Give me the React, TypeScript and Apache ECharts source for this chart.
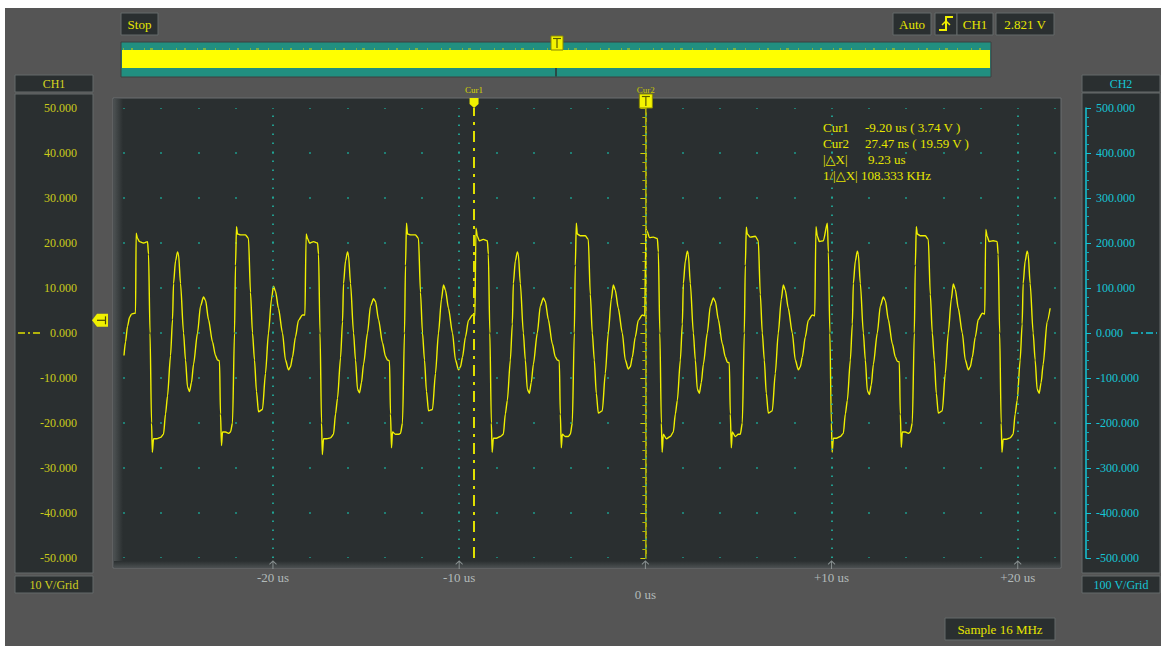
import { useEffect, useRef } from 'react';
import * as echarts from 'echarts';

// ---- data ----
const xTickLabels: Record<string, string> = { '-20': '-20 us', '-10': '-10 us', '0': '\n0 us', '10': '+10 us', '20': '+20 us' };
const majorTimes = [-20, -10, 0, 10, 20];

// lead-in before the first trigger edge (us, V)
const leadTimes = [-28.0, -27.92, -27.81, -27.7, -27.6, -27.43];
const leadVolts = [-5.0, -2.0, 1.5, 3.5, 4.2, 4.4];

// trigger-edge times of each period (us)
const edgeTimes = [-27.38, -18.25, -9.13, 0, 9.13, 18.25];

// sample offsets inside a period, relative to its edge (us)
const periodOffsets = [0.0, 0.032, 0.107, 0.215, 0.429, 0.644, 0.698, 0.778, 0.859, 0.902, 0.966, 1.127, 1.342, 1.503, 1.61, 1.718, 1.879, 1.986, 2.04, 2.147, 2.255, 2.308, 2.416, 2.577, 2.684, 2.791, 2.899, 3.006, 3.113, 3.328, 3.489, 3.65, 3.758, 3.919, 4.133, 4.294, 4.402, 4.509, 4.563, 4.616, 4.67, 4.831, 4.992, 5.1, 5.207, 5.314, 5.368, 5.422, 5.475, 5.636, 5.905, 6.066, 6.173, 6.281, 6.388, 6.495, 6.603, 6.817, 6.978, 7.139, 7.3, 7.408, 7.515, 7.676, 7.891, 8.052, 8.213, 8.321, 8.428, 8.589, 8.75, 8.965, 9.099];

const period1 = [4.4, 22.2, 21.0, 20.3, 20.0, 20.3, 17.5, 0, -20, -26.5, -23.5, -23.5, -23.2, -22.5, -18, -14, -5, 3, 11, 16, 18.0, 17.5, 11, 0, -6, -12, -13.0, -11, -7, 0, 6, 8.0, 7.3, 3, -2, -5, -6, -6.2, -18, -25, -22, -22, -22.3, -22, -20, 0, 15, 23.6, 22, 21.8, 21.8, 21.0, 9, 0, -6, -13, -17.5, -17, -9, 0, 7.5, 10.4, 9.3, 5.5, 0, -6, -8.2, -7.5, -5.4, -0.9, 2.8, 4.0, 4.0];
const period2 = [4.0, 22.0, 21.0, 20.0, 20.3, 20.0, 17.5, 0, -20, -27.0, -23.5, -23.5, -23.3, -22.5, -18, -14.5, -5.5, 2.5, 11, 16, 18.0, 17.3, 11, 0, -6, -12.5, -13.3, -11, -7, 0, 6, 7.6, 7, 3, -2.2, -5.2, -6, -6.2, -18, -25.5, -22, -22.5, -22.5, -22.3, -20, 0, 15, 24.4, 22, 21.8, 21.8, 21.0, 9, 0, -6, -13, -17.3, -17, -9, 0, 7.5, 10.7, 9.5, 5.5, 0, -6, -8.2, -7.5, -5.4, -0.9, 2.8, 4.0, 3.8];
const period3 = [3.7, 23.3, 21.5, 20.5, 20.8, 20.5, 17.5, 0, -20, -26.5, -23.4, -23.4, -23, -22.5, -18, -15, -6, 2, 11, 16, 18.0, 17.5, 11, 0, -6, -12.5, -13.4, -11, -7, 0, 6, 7.8, 7, 3, -2.4, -5.3, -6, -6.2, -18, -25.5, -22.5, -23, -23, -22.5, -20, 0, 15, 24.4, 22, 21.6, 21.6, 20.8, 8.6, 0, -6, -13.4, -17.8, -17.3, -9, 0, 7.5, 10.7, 9.5, 5.5, 0, -6, -8.0, -7.5, -5.4, -0.9, 2.8, 4.0, 3.8];
const period4 = [3.8, 23.0, 22.5, 21.2, 21.3, 21.0, 18.0, 0, -20, -26.5, -22.5, -23.5, -23, -22, -18, -15, -6, 2, 11, 16, 18.2, 17.5, 11, 0, -6, -12.5, -13.4, -11, -7, 0, 6, 7.8, 7, 3, -2.4, -5.3, -6.5, -6.6, -18, -25.5, -22, -23, -22.5, -22.5, -20, 0, 15, 23.5, 22, 21.3, 21.5, 20.5, 8.6, 0, -6, -13.4, -17.8, -17.3, -9, 0, 7.5, 10.7, 9.5, 5.5, 0, -6, -8.2, -7.5, -5.4, -0.9, 2.8, 4.0, 3.8];
const period5 = [3.8, 23.6, 21.5, 20.3, 20.5, 24.4, 18.0, 0, -20, -26.5, -23.4, -23.4, -23, -22.3, -18, -15, -6, 2, 11, 16, 18.2, 17.5, 11, 0, -6, -12.8, -13.7, -11.5, -7, 0, 6, 8.0, 7.2, 3, -2.4, -5.3, -6.3, -6.4, -18, -25.4, -22, -22, -22.3, -22, -20, 0, 15, 23.6, 22, 21.6, 21.6, 20.8, 8.6, 0, -6, -13.4, -17.8, -17.3, -9, 0, 7.5, 10.9, 9.7, 5.5, 0, -6, -8.2, -7.5, -5.4, -0.9, 3.0, 4.4, 4.2];
const period6 = [4.3, 23.0, 21.5, 20.3, 20.5, 20.3, 17.5, 0, -20, -26.5, -23.6, -23.6, -23.3, -22.5, -18, -15, -6, 2, 11, 16, 18.2, 17.5, 11, 0, -6, -12.5, -13.4, -11, -7, 2.5, 5.5];
const periods = [period1, period2, period3, period4, period5, period6];

// cursors
const cursor1Time = -9.2;
const cursor2Time = 0.02747;
const triggerLevel = 2.821;

const FONT = 'Liberation Serif, DejaVu Serif, serif';
const YEL = '#e6e600';
const CYAN = '#16c6d6';
const TEAL = '#1c9a8a';

export default function App() {
  const ref = useRef<HTMLDivElement>(null);

  useEffect(() => {
    document.body.style.margin = '0';
    const el = ref.current!;
    const chart = echarts.init(el, null, { renderer: 'svg' });

    const trace: number[][] = [];
    leadTimes.forEach((t, i) => trace.push([t, leadVolts[i]]));
    periods.forEach((vals, p) => {
      vals.forEach((v, i) => trace.push([+(edgeTimes[p] + periodOffsets[i]).toFixed(3), v]));
    });

    const cursorSeries = (t: number, color: string, width: number, dash: number[], z: number) => ({
      type: 'line', data: [[-28, 0]], symbol: 'none', silent: true, z,
      lineStyle: { opacity: 0 },
      markLine: {
        silent: true, symbol: 'none', label: { show: false },
        lineStyle: { color, width, type: dash },
        data: [{ xAxis: t }],
      },
    });

    const option: any = {
      animation: false,
      backgroundColor: '#ffffff',
      grid: { left: 124, right: 106, top: 108, bottom: 88 },
      xAxis: {
        type: 'value', min: -28, max: 22, interval: 2,
        axisLine: { show: false }, axisTick: { show: false },
        axisLabel: {
          formatter: (v: number) => xTickLabels[String(Math.round(v))] ?? '',
          color: '#b2baba', fontFamily: FONT, fontSize: 13, margin: 11, lineHeight: 17,
          showMinLabel: true, showMaxLabel: true,
        },
        splitLine: { show: true, lineStyle: { color: TEAL, width: 1.5, type: [2, 43], dashOffset: 1 } },
      },
      yAxis: [
        {
          type: 'value', min: -50, max: 50, interval: 10, position: 'left', offset: 35,
          axisLine: { show: true, lineStyle: { color: '#d4d400', width: 1.5 } },
          axisTick: { show: true, length: 5, lineStyle: { color: '#d4d400' } },
          minorTick: { show: true, splitNumber: 5, length: 3, lineStyle: { color: '#b8b800' } },
          axisLabel: { formatter: (v: number) => v.toFixed(3), color: '#cccc1a', fontFamily: FONT, fontSize: 12, margin: 12 },
          splitLine: { show: false },
        },
        {
          type: 'value', min: -500, max: 500, interval: 100, position: 'right', offset: 31,
          axisLine: { show: true, lineStyle: { color: CYAN, width: 1.5 } },
          axisTick: { show: true, length: 5, lineStyle: { color: CYAN } },
          minorTick: { show: true, splitNumber: 5, length: 3, lineStyle: { color: '#12a8b8' } },
          axisLabel: { formatter: (v: number) => v.toFixed(3), color: CYAN, fontFamily: FONT, fontSize: 12, margin: 10 },
          splitLine: { show: false },
        },
      ],
      series: [
        {
          type: 'line', data: [[-28, 0]], symbol: 'none', silent: true, z: 1,
          lineStyle: { opacity: 0 },
          markLine: {
            silent: true, symbol: 'none', label: { show: false },
            lineStyle: { color: '#22a898', width: 1.8, type: [1.5, 7.5] },
            data: majorTimes.map((t) => ({ xAxis: t })),
          },
        },
        cursorSeries(cursor2Time, '#7c7c18', 1, [4, 4, 1.5, 4], 2),
        {
          type: 'line', data: trace, symbol: 'none', showSymbol: false, silent: true, z: 3,
          smooth: 0.25, smoothMonotone: 'x',
          lineStyle: { color: '#f0f000', width: 1.4 },
        },
        cursorSeries(cursor1Time, '#e0e000', 2, [11, 6, 3, 6], 4),
        {
          type: 'scatter', data: majorTimes.map((t) => [t, -50]), silent: true, clip: false, z: 5,
          symbol: 'path://M0,5 L5,0 L10,5 M5,0 L5,12', symbolSize: [7, 8], symbolOffset: [0, 7],
          itemStyle: { color: 'none', borderColor: '#9ea6a6', borderWidth: 1 },
        },
      ],
    };
    chart.setOption(option);

    const px = (t: number) => chart.convertToPixel({ xAxisIndex: 0 }, t) as number;
    const pyL = (v: number) => chart.convertToPixel({ yAxisIndex: 0 }, v) as number;
    const pyR = (v: number) => chart.convertToPixel({ yAxisIndex: 1 }, v) as number;

    const rect = (x: number, y: number, w: number, h: number, fill: string, stroke?: string, z = -50) => ({
      type: 'rect', silent: true, z, shape: { x, y, width: w, height: h },
      style: { fill, stroke: stroke ?? 'none', lineWidth: 1 },
    });
    const text = (s: string, x: number, y: number, color: string, size = 13, align = 'center', z = 60) => ({
      type: 'text', silent: true, z, x, y,
      style: { text: s, fill: color, font: `${size}px ${FONT}`, align, verticalAlign: 'middle', textAlign: align, textVerticalAlign: 'middle' },
    });
    const line = (x1: number, y1: number, x2: number, y2: number, color: string, w = 1, dash?: number[], z = 55) => ({
      type: 'line', silent: true, z, shape: { x1, y1, x2, y2 },
      style: { stroke: color, lineWidth: w, lineDash: dash },
    });
    const poly = (pts: number[][], fill: string, z = 55) => ({ type: 'polygon', silent: true, z, shape: { points: pts }, style: { fill } });

    const PANEL = '#2a2f30';
    const EDGE = '#646a6a';
    const c1 = px(cursor1Time);
    const c2 = px(cursor2Time);
    const trig = pyL(triggerLevel);
    const zL = pyL(0);
    const zR = pyR(0);

    const elements: any[] = [
      // page & panels
      rect(5, 8, 1156, 638, '#555555', undefined, -100),
      rect(113, 98, 948, 470, PANEL, '#6a6f70', -90),
      {
        type: 'rect', silent: true, z: -85, shape: { x: 114, y: 99, width: 9, height: 468 },
        style: { fill: new echarts.graphic.LinearGradient(0, 0, 1, 0, [{ offset: 0, color: '#4b5051' }, { offset: 1, color: PANEL }]) },
      },
      {
        type: 'rect', silent: true, z: -85, shape: { x: 114, y: 561, width: 946, height: 6 },
        style: { fill: new echarts.graphic.LinearGradient(0, 0, 0, 1, [{ offset: 0, color: PANEL }, { offset: 1, color: '#474c4d' }]) },
      },
      rect(15, 94, 78, 479, PANEL, EDGE, -90),
      rect(1082, 93, 78, 480, PANEL, EDGE, -90),
      // channel boxes
      rect(15, 75, 78, 17, PANEL, EDGE), text('CH1', 54, 84, '#d8d820', 12),
      rect(1082, 75, 78, 17, PANEL, EDGE), text('CH2', 1121, 84, CYAN, 12),
      rect(15, 576, 78, 17, PANEL, EDGE), text('10 V/Grid', 54, 585, '#d0d020', 12),
      rect(1082, 576, 78, 17, PANEL, EDGE), text('100 V/Grid', 1121, 585, CYAN, 12),
      // top status
      rect(121, 13, 37, 22, PANEL, EDGE), text('Stop', 139.5, 24, YEL, 13),
      rect(893, 13, 38, 22, PANEL, EDGE), text('Auto', 912, 24, YEL, 13),
      rect(935, 13, 22, 22, PANEL, EDGE),
      { type: 'polyline', silent: true, z: 60, shape: { points: [[939, 30], [946, 30], [946, 17], [953, 17]] }, style: { stroke: '#f0f000', lineWidth: 2, fill: 'none' } },
      { type: 'polyline', silent: true, z: 60, shape: { points: [[942, 25], [946, 21], [950, 25]] }, style: { stroke: '#f0f000', lineWidth: 1.5, fill: 'none' } },
      rect(957, 13, 36, 22, PANEL, EDGE), text('CH1', 975, 24, YEL, 13),
      rect(996, 13, 58, 22, PANEL, EDGE), text('2.821 V', 1025, 24, YEL, 13),
      // overview bar
      rect(121, 42, 870, 35, '#218f80', '#3c4141'),
      rect(122, 50, 868, 18, '#ffff00', undefined, -40),
      line(123, 49, 988, 49, '#d8d800', 1, [1, 7, 2, 11, 1, 5, 3, 9, 1, 13], -35),
      line(556, 68, 556, 76.5, '#2c3333', 1.5),
      rect(551, 36, 12, 14, '#f4f400', '#8a8a00', 56),
      line(553, 38.5, 561, 38.5, '#5a5a00', 1.2, undefined, 57),
      line(557, 38.5, 557, 48, '#5a5a00', 1.2, undefined, 57),
      // sample rate
      rect(945, 618, 110, 22, PANEL, EDGE), text('Sample 16 MHz', 1000, 629, YEL, 13),
      // cursor readout
      text('Cur1', 823, 127, YEL, 13, 'left'), text('-9.20 us ( 3.74 V )', 865, 127, YEL, 13, 'left'),
      text('Cur2', 823, 143, YEL, 13, 'left'), text('27.47 ns ( 19.59 V )', 865, 143, YEL, 13, 'left'),
      text('|△X|', 823, 159, YEL, 13, 'left'), text('9.23 us', 868, 159, YEL, 13, 'left'),
      text('1/|△X| 108.333 KHz', 823, 175, YEL, 13, 'left'),
      // cursor markers
      text('Cur1', c1, 90, '#d8d800', 9),
      poly([[c1 - 4.5, 98], [c1 + 4.5, 98], [c1 + 4.5, 104], [c1, 108], [c1 - 4.5, 104]], '#f0f000'),
      rect(c2 - 6.5, 94, 13, 14, '#f4f400', '#8a8a00', 56),
      line(c2 - 4, 96.5, c2 + 4, 96.5, '#5a5a00', 1.2, undefined, 57),
      line(c2, 96.5, c2, 106, '#5a5a00', 1.2, undefined, 57),
      text('Cur2', c2, 90, '#c8c800', 9, 'center', 58),
      // trigger level marker on the left edge
      poly([[92, trig], [97, trig - 6.5], [108, trig - 6.5], [108, trig + 6.5], [97, trig + 6.5]], '#f0f000'),
      line(97, trig, 105.5, trig, '#4a4a00', 1.2, undefined, 57),
      line(105.5, trig - 4, 105.5, trig + 4, '#4a4a00', 1.2, undefined, 57),
      // zero-level marks
      line(18, zL, 41, zL, '#e0e000', 1.5, [7, 3, 2, 3]),
      line(1131, zR, 1157, zR, CYAN, 1.5, [7, 3, 2, 3]),
    ];
    chart.setOption({ graphic: { elements } });

    return () => chart.dispose();
  }, []);

  return <div ref={ref} style={{ width: 1161, height: 646 }} />;
}
